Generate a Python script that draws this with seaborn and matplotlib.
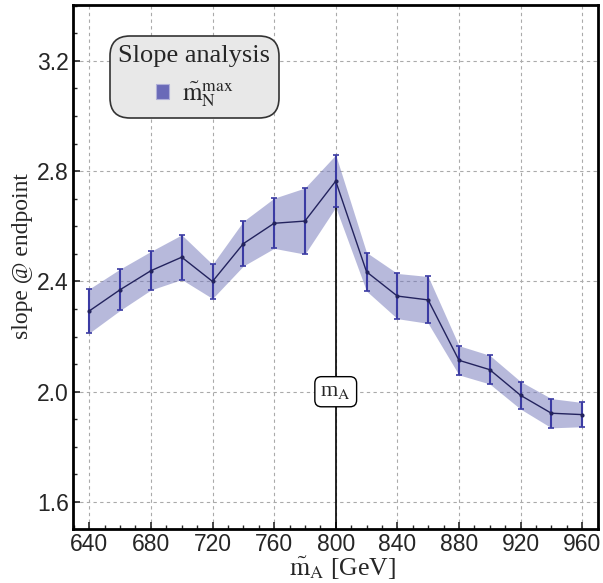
import numpy as np
import pandas as pd
import seaborn as sns
import matplotlib.pyplot as plt
from matplotlib.patches import Patch
from matplotlib.ticker import MultipleLocator

# values
mass = [640, 660, 680, 700, 720, 740, 760, 780, 800, 820, 840, 860, 880, 900, 920, 940, 960]
slope = [2.293, 2.370, 2.439, 2.488, 2.400, 2.537, 2.611, 2.619, 2.764,
         2.435, 2.347, 2.333, 2.114, 2.080, 1.987, 1.922, 1.917]
slope_err = [0.080, 0.075, 0.070, 0.081, 0.062, 0.081, 0.091, 0.120, 0.095,
             0.070, 0.082, 0.085, 0.053, 0.052, 0.050, 0.053, 0.044]
m_A = 800
x_ticks = [640, 680, 720, 760, 800, 840, 880, 920, 960]
y_ticks = [1.6, 2.0, 2.4, 2.8, 3.2]

df = pd.DataFrame({"mass": mass, "slope": slope, "err": slope_err})
df["lo"] = df["slope"] - df["err"]
df["hi"] = df["slope"] + df["err"]

sns.set_theme(style="ticks")
plt.rcParams["font.family"] = ["Liberation Serif", "DejaVu Serif"]
plt.rcParams["mathtext.fontset"] = "stix"
tick_font = ["Liberation Sans", "DejaVu Sans"]

fig = plt.figure(figsize=(6.03, 5.83), dpi=100)
ax = fig.add_axes([0.121, 0.0926, 0.870, 0.8994])

# grid first so it sits behind everything
ax.set_axisbelow(True)
ax.grid(True, which="major", color="#aaaaaa", linestyle=(0, (3, 3)), linewidth=0.8)

ax.fill_between(df["mass"], df["lo"], df["hi"], color="#7074b8", alpha=0.5,
                linewidth=0, zorder=1)

# vertical marker line at m_A
y_peak = df.loc[df["mass"] == m_A, "slope"].iloc[0]
ax.plot([m_A, m_A], [1.0, y_peak], color="black", lw=1.2, zorder=2)

ax.errorbar(df["mass"], df["slope"], yerr=df["err"], fmt="none",
            ecolor="#3b3ba3", elinewidth=1.5, capsize=2, capthick=1.2, zorder=3)
sns.lineplot(data=df, x="mass", y="slope", ax=ax, color="#23235e", lw=1.0,
             marker="o", markersize=3, markeredgewidth=0, zorder=4)

ax.text(m_A, 2.0, r"m$_\mathrm{A}$", fontsize=16, ha="center", va="center", zorder=5,
        bbox=dict(boxstyle="round,pad=0.25,rounding_size=0.3", fc="white", ec="black", lw=1))

ax.set_xlim(629.4, 970)
ax.set_ylim(1.502, 3.404)
ax.set_xticks(x_ticks, labels=[str(v) for v in x_ticks], fontfamily=tick_font)
ax.set_yticks(y_ticks, labels=[f"{v:.1f}" for v in y_ticks], fontfamily=tick_font)
ax.xaxis.set_minor_locator(MultipleLocator(10))
ax.yaxis.set_minor_locator(MultipleLocator(0.1))
ax.tick_params(which="major", direction="in", length=5, width=1.2, top=False, right=False,
               labelsize=16.5, pad=3)
ax.tick_params(which="minor", direction="in", length=3, width=1.0, top=False, right=False)

for sp in ax.spines.values():
    sp.set_visible(True)
    sp.set_linewidth(2)
    sp.set_color("black")

ax.set_xlabel(r"$\tilde{\mathrm{m}}_\mathrm{A}$ [GeV]", fontsize=18.5)
ax.set_ylabel("slope @ endpoint", fontsize=17)
ax.xaxis.set_label_coords(0.514, -0.05)
ax.yaxis.set_label_coords(-0.076, 0.52)

handle = Patch(facecolor="#6a6ab8", edgecolor="#b0b0d8", lw=0.8)
leg = ax.legend([handle], [r"$\tilde{\mathrm{m}}_\mathrm{N}^{\mathrm{max}}$"],
                title="Slope analysis", loc="upper left", bbox_to_anchor=(0.07, 0.94),
                borderaxespad=0, fontsize=18, title_fontsize=19, frameon=True,
                fancybox=True, handlelength=0.55, handleheight=0.55, handletextpad=0.5,
                borderpad=0.35, framealpha=1)
leg._legend_box.align = "center"
leg.get_frame().set_facecolor("#e8e8e8")
leg.get_frame().set_edgecolor("#333333")
leg.get_frame().set_linewidth(1.2)
leg.get_frame().set_boxstyle("round,pad=0,rounding_size=0.8")
leg.set_zorder(10)

fig.savefig("out.png", dpi=100)
